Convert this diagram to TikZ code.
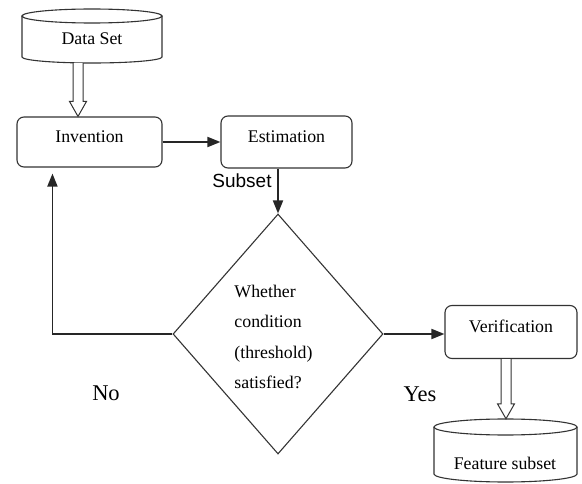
\documentclass[tikz,border=0pt]{standalone}
\usepackage{fontspec}
\setmainfont{Liberation Serif}
\newfontfamily\sansf{Liberation Sans}
\usetikzlibrary{shapes.geometric,arrows.meta,calc}
\begin{document}
\begin{tikzpicture}[x=1pt,y=-1pt,
  box/.style={draw=black!80, line width=1.1pt, rounded corners=7pt, inner sep=0pt,
    font=\fontsize{17.8}{20}\selectfont, text height=12pt, text depth=10pt},
  lbl/.style={font=\fontsize{17.8}{20}\selectfont, inner sep=0pt},
  big/.style={font=\fontsize{22.5}{25}\selectfont, inner sep=0pt},
  area/.style={inner sep=0pt},
  conn/.style={draw=black!85, line width=1.8pt, -{Triangle[length=13pt,width=10pt]}},
  hollow/.style={draw=black!80, line width=1pt, fill=white},
  cyl/.style={draw=black!80, line width=1.1pt},
]
\useasboundingbox (0,0) rectangle (582,484);

% Data Set cylinder
\node[area, minimum width=140pt, minimum height=54pt] (ds) at (92,36) {};
\draw[cyl] (92,16) ellipse[x radius=70, y radius=7];
\draw[cyl] (22,16) -- (22,57) arc[start angle=180, end angle=0, x radius=70, y radius=6] -- (162,16);
\node[lbl] (dstext) at (92,39) {Data Set};

% boxes
\node[box, minimum width=145pt, minimum height=50pt] (inv) at (89.5,142) {Invention};
\node[box, minimum width=131pt, minimum height=52pt] (est) at (286.5,142) {Estimation};
\node[box, minimum width=132pt, minimum height=53pt] (vf) at (511,332) {Verification};

% decision
\node[draw=black!80, line width=1.1pt, diamond, minimum width=210pt, minimum height=240pt, inner sep=0pt] (dec) at (278,334) {};
\node[align=left, inner sep=0pt, font=\fontsize{17.8}{30.5}\selectfont] (dtext) at (273.5,337)
  {Whether\\condition\\(threshold)\\satisfied?};

% Feature subset cylinder
\node[area, minimum width=143pt, minimum height=64pt] (fs) at (505.5,451) {};
\draw[cyl] (505.5,427) ellipse[x radius=71.5, y radius=8];
\draw[cyl] (434,427) -- (434,474) arc[start angle=180, end angle=0, x radius=71.5, y radius=8] -- (577,427);
\node[lbl] (fstext) at (505,463) {Feature subset};

% hollow arrows
\coordinate (h1s) at ($(ds.south)+(-14,0)$);
\coordinate (h1t) at ($(inv.north)+(-11.5,0)$);
\draw[hollow] ($(h1s)+(-5,0)$) -- ($(h1t)+(-5,-15)$) -- ($(h1t)+(-8.5,-15)$) -- (h1t)
  -- ($(h1t)+(8.5,-15)$) -- ($(h1t)+(5,-15)$) -- ($(h1s)+(5,0)$);
\coordinate (h2s) at ($(vf.south)+(-5,0)$);
\coordinate (h2t) at ($(fs.north)+(0.5,0)$);
\draw[hollow] ($(h2s)+(-5,0)$) -- ($(h2t)+(-5,-15)$) -- ($(h2t)+(-8.5,-15)$) -- (h2t)
  -- ($(h2t)+(8.5,-15)$) -- ($(h2t)+(5,-15)$) -- ($(h2s)+(5,0)$);

% connectors
\draw[conn] (inv.east) -- (est.west);
\draw[conn] (dec.north |- est.south) -- (dec.north);
\draw[conn] (dec.east) -- (dec.east -| vf.west);
\draw[conn, shorten >=6pt] (dec.west) -| ($(inv.south west)+(36,0)$);

% labels
\node[inner sep=0pt, font=\sansf\fontsize{19}{21}\selectfont] (subset) at (242,181) {Subset};
\node[big] (yes) at (420,394) {Yes};
\node[big] (no) at (106,393) {No};
\end{tikzpicture}
\end{document}
